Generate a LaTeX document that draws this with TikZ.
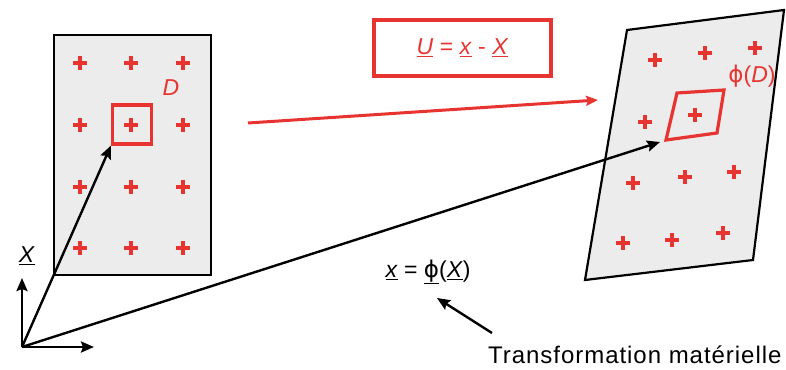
\documentclass[tikz,border=0pt]{standalone}
\usepackage{fontspec}
\setmainfont{Liberation Sans}
\newfontfamily\phifont{DejaVu Sans}
\usepackage{tikz}
\usetikzlibrary{arrows.meta, positioning, calc}

\definecolor{matred}{RGB}{232,52,48}
\definecolor{matgray}{RGB}{236,236,236}

\begin{document}
\begin{tikzpicture}[
    x=1pt, y=-1pt,
    font=\fontsize{23}{26}\selectfont,
    bodybox/.style={draw=black, line width=2.2pt, fill=matgray},
    pt/.style={matred, line width=4pt},
    redbox/.style={draw=matred, line width=3.2pt},
    arrow/.style={line width=2.4pt,->,>={Stealth[length=13pt,width=11pt,inset=2pt]}},
    redarrow/.style={matred, line width=3pt,->,>={Stealth[length=12pt,width=10pt,inset=2pt]}}
]
\useasboundingbox (0,0) rectangle (786,369);

% initial configuration
\node (omega0) [bodybox, minimum width=157pt, minimum height=240pt] at (132.5,155) {};
\foreach \px in {80,131,183}
  \foreach \py in {63,125,187,248}
    \draw [pt] (\px-7,\py) -- (\px+7,\py) (\px,\py-7) -- (\px,\py+7);
\node (elem) [redbox, minimum size=39pt] at (132,124.5) {};
\node (labD) [text=matred] at (171,88) {\textit{D}};

% current configuration
\draw [bodybox] (627,30) -- (784,10) -- (753,260) -- (585,280) -- cycle;
\foreach \px/\py in {655/60, 705/53, 755/48, 645/122, 695/115,
                     633/183, 685/177, 734/172, 623/243, 672/240, 723/233}
  \draw [pt] (\px-7,\py) -- (\px+7,\py) (\px,\py-7) -- (\px,\py+7);
\draw [redbox] (677,93) -- (724,90) -- (717,133) -- (666,140) -- cycle;
\coordinate (phiElem) at (660,142);
\node (labPhiD) [text=matred] at (752,76) {{\phifont ϕ}(\textit{D})};

% axes
\coordinate (O) at (22,347);
\coordinate (e1) at (94,347);
\coordinate (e2) at (22,278);
\node (labX) at (27,256) {\underline{\textit{X}}};
\draw [arrow] (O) -- (e1);
\draw [arrow] (O) -- (e2);
\draw [arrow] (O) -- (elem.south west);
\draw [arrow] (O) -- (phiElem);

% displacement
\coordinate (rs) at (248,123);
\coordinate (re) at (598,100);
\draw [redarrow] (rs) -- (re);
\node (relU) [redbox, line width=3.6pt, minimum width=177pt, minimum height=56pt, text=matred] at (462.5,48) {\underline{\textit{U}} = \underline{\textit{x}} - \underline{\textit{X}}};

% mapping
\node (mapping) at (428,272) {\underline{\textit{x}} = \underline{\phifont ϕ}(\underline{\textit{X}})};
\node (transf) [anchor=east, font=\fontsize{24}{27}\selectfont\addfontfeatures{LetterSpace=4}] at (785,355) {Transformation matérielle};
\coordinate (tstart) at (492,333);
\coordinate (tend) at (437,298);
\draw [arrow] (tstart) -- (tend);

\end{tikzpicture}
\end{document}
